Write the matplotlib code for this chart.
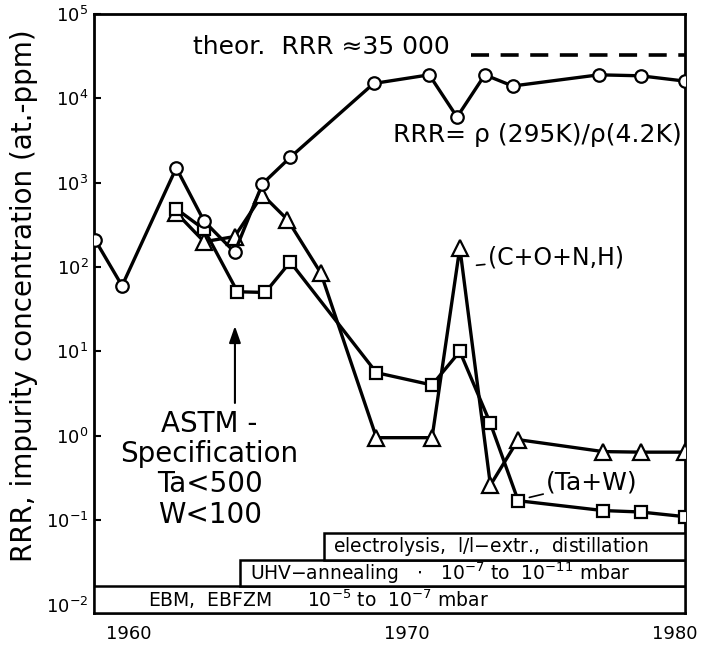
import matplotlib
matplotlib.use('Agg')
import matplotlib.pyplot as plt
import matplotlib.patches as patches
import matplotlib.transforms as mtransforms
from matplotlib.ticker import NullLocator, FixedLocator, NullFormatter
import numpy as np

# RRR curve (circles)
yr_rrr = [1958.78, 1959.75, 1961.7, 1962.7, 1963.8, 1964.8, 1965.8, 1968.8,
          1970.8, 1971.8, 1972.8, 1973.8, 1976.9, 1978.4, 1980.0]
rrr = [210, 60, 1500, 350, 150, 970, 2000, 15000, 19000, 6000, 19000,
       14000, 19000, 18500, 16000]

# C+O+N,H (triangles)
yr_gas = [1961.7, 1962.7, 1963.8, 1964.8, 1965.7, 1966.9, 1968.9, 1970.9,
          1971.9, 1973.0, 1974.0, 1977.05, 1978.4, 1980.0]
gas = [440, 200, 230, 720, 365, 85, 0.95, 0.95, 170, 0.26, 0.9, 0.65, 0.64, 0.64]

# Ta+W (squares)
yr_taw = [1961.7, 1962.7, 1963.9, 1964.9, 1965.8, 1968.9, 1970.9, 1971.9,
          1973.0, 1974.0, 1977.05, 1978.4, 1980.0]
taw = [490, 280, 51, 50, 115, 5.6, 4.0, 10, 1.4, 0.17, 0.13, 0.125, 0.11]

# theoretical RRR
yr_theor = [1972.3, 1980.0]
theor = [33000, 33000]

# axis ticks
y_ticks = [1e-2, 1e-1, 1e0, 1e1, 1e2, 1e3, 1e4, 1e5]
x_ticks = [1960, 1970, 1980]

# process boxes: (start year, label)
boxes = [(None, r'EBM,  EBFZM      $10^{-5}$ to  $10^{-7}$ mbar'),
         (1964.0, r'UHV$-$annealing   $\cdot$   $10^{-7}$ to  $10^{-11}$ mbar'),
         (1967.0, r'electrolysis,  l/l$-$extr.,  distillation')]

plt.rcParams['font.family'] = ['DejaVu Sans']
plt.rcParams['mathtext.fontset'] = 'dejavusans'

fig = plt.figure(figsize=(7.03, 6.47), dpi=100)
ax = fig.add_axes([0.1337, 0.0526, 0.8407, 0.9258])

lw = 2.4
ax.plot(yr_rrr, rrr, 'k-', lw=lw, marker='o', ms=9, mfc='white', mec='black', mew=1.6, zorder=4)
ax.plot(yr_gas, gas, 'k-', lw=lw, marker='^', ms=11, mfc='white', mec='black', mew=1.6, zorder=3)
ax.plot(yr_taw, taw, 'k-', lw=lw, marker='s', ms=8, mfc='white', mec='black', mew=1.6, zorder=3)
ax.plot(yr_theor, theor, 'k', lw=2.6, dashes=(5, 3.2))

ax.set_yscale('log')
ax.set_xlim(1958.74, 1980.0)
ax.set_ylim(10**-2.1, 1e5)
ax.set_yticks(y_ticks)
ax.yaxis.set_minor_locator(NullLocator())
ax.set_xticks(x_ticks)
ax.xaxis.set_minor_locator(FixedLocator(np.arange(1962, 1980, 2)))
ax.xaxis.set_minor_formatter(NullFormatter())
ax.tick_params(axis='both', which='both', direction='in', width=1.5)
ax.tick_params(axis='y', which='major', length=5, labelsize=13, pad=4)
ax.tick_params(axis='x', which='major', length=5, labelsize=13, pad=9)
ax.tick_params(axis='x', which='minor', length=4)
for s in ax.spines.values():
    s.set_linewidth(2)

# shift the 1980 label a little to the left, like the original
last = ax.get_xticklabels()[-1]
last.set_transform(last.get_transform() + mtransforms.ScaledTranslation(-10 / 100, 0, fig.dpi_scale_trans))

ax.set_ylabel('RRR, impurity concentration (at.-ppm)', fontsize=20)
ax.yaxis.set_label_coords(-0.095, 0.53)

#### text ####
ax.text(1962.3, 41000, u'theor.  RRR \u224835 000', fontsize=18, va='center', ha='left')
ax.text(1979.9, 3700, u'RRR= \u03c1 (295K)/\u03c1(4.2K)', fontsize=18, va='center', ha='right')
ax.annotate('(C+O+N,H)', xy=(1972.5, 105), xytext=(1972.9, 131), fontsize=17,
            va='center', ha='left', arrowprops=dict(arrowstyle='-', lw=1.2, shrinkA=0, shrinkB=0))
ax.annotate('(Ta+W)', xy=(1974.4, 0.186), xytext=(1975.0, 0.28), fontsize=18,
            va='center', ha='left', arrowprops=dict(arrowstyle='-', lw=1.2, shrinkA=0, shrinkB=0))
ax.text(1962.9, 0.4, 'ASTM -\nSpecification\nTa<500\nW<100', fontsize=20,
        ha='center', va='center', linespacing=1.1)
ax.annotate('', xy=(1963.81, 20), xytext=(1963.81, 2.45),
            arrowprops=dict(arrowstyle='-|>,head_width=0.35,head_length=1.0', lw=1.5,
                            color='black', shrinkA=0, shrinkB=0))

#### process boxes ####
trans = mtransforms.blended_transform_factory(ax.transData, ax.transAxes)
h = 0.0445
x1 = 1980.0
for i, (x0, label) in enumerate(boxes):
    if x0 is None:
        x0 = ax.get_xlim()[0]
    y0 = i * h
    ax.add_patch(patches.Rectangle((x0, y0), x1 - x0, h, transform=trans,
                                   facecolor='white', edgecolor='black', lw=1.8, zorder=5))
    ax.text(x0 + 0.35 if i > 0 else 1960.7, y0 + h / 2, label, transform=trans,
            fontsize=13.5, va='center', ha='left', zorder=6)

fig.savefig('out.png', dpi=100)
